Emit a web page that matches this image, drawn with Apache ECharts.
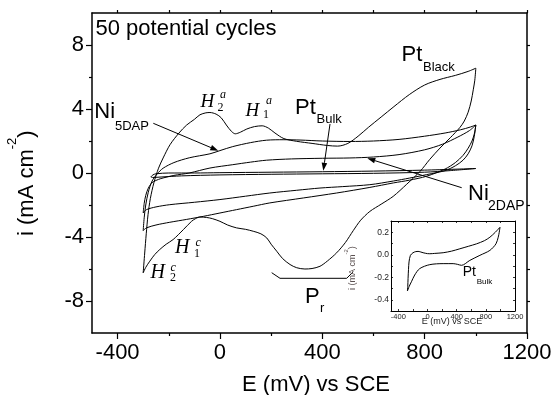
<!DOCTYPE html>
<html>
<head>
<meta charset="utf-8">
<script src="https://cdn.jsdelivr.net/npm/echarts@6/dist/echarts.min.js"></script>
<style>
  html, body { margin: 0; padding: 0; background: #fff; }
  #cv { width: 554px; height: 395px; }
</style>
</head>
<body>
<div id="cv"></div>
<script>
// E in mV vs SCE, i in mA cm^-2

// Pt black, 50 cycles
const ptBlackAnE = [-300, -294, -288, -281, -272, -258, -240, -222, -195, -160, -130, -100, -78, -55, -39, -15, 5, 25, 45, 60, 80, 105, 135, 165, 190, 215, 250, 300, 360, 420, 460, 500, 540, 580, 630, 680, 740, 800, 860, 920, 970, 1000]
const ptBlackAnI = [-6.24, -5.0, -3.8, -2.6, -1.6, -0.6, 0.3, 0.94, 1.77, 2.5, 3.0, 3.35, 3.64, 3.76, 3.78, 3.68, 3.45, 3.0, 2.6, 2.45, 2.55, 2.75, 2.9, 2.95, 2.8, 2.5, 2.15, 1.98, 1.85, 1.72, 1.68, 1.85, 2.3, 2.85, 3.5, 4.15, 4.9, 5.5, 5.85, 6.1, 6.35, 6.55]
const ptBlackCaE = [1000, 996, 990, 982, 970, 955, 938, 900, 860, 820, 782, 730, 677, 630, 586, 550, 521, 490, 456, 420, 391, 360, 332, 300, 274, 245, 222, 200, 183, 160, 130, 100, 65, 30, 0, -30, -52, -78, -95, -111, -143, -183, -210, -235, -255, -274, -290, -300]
const ptBlackCaI = [6.55, 5.8, 5.2, 4.5, 3.8, 3.25, 2.85, 2.2, 1.56, 0.85, 0.1, -0.7, -1.46, -1.95, -2.4, -2.95, -3.6, -4.35, -4.99, -5.5, -5.83, -5.97, -6.0, -5.92, -5.72, -5.35, -4.89, -4.45, -4.06, -3.8, -3.64, -3.52, -3.43, -3.25, -3.02, -2.85, -2.78, -2.75, -2.85, -3.02, -3.54, -4.16, -4.45, -4.78, -5.1, -5.51, -5.9, -6.24]

// Ni 5DAP
const ni5AnE = [-300, -296, -290, -280, -265, -245, -222, -180, -120, -39, 0, 50, 120, 182, 250, 313, 400, 508, 600, 700, 800, 880, 940, 980, 1000]
const ni5AnI = [-3.6, -2.8, -2.0, -1.2, -0.5, -0.05, 0.3, 0.65, 0.95, 1.2, 1.4, 1.65, 1.9, 2.05, 2.08, 2.06, 2.0, 1.97, 2.0, 2.1, 2.3, 2.5, 2.7, 2.88, 3.0]
const ni5CaE = [1000, 995, 985, 970, 950, 920, 880, 808, 740, 678, 586, 456, 326, 195, 130, 65, 0, -65, -130, -196, -250, -287, -300]
const ni5CaI = [3.0, 2.5, 2.0, 1.55, 1.1, 0.65, 0.25, -0.2, -0.45, -0.62, -0.9, -1.25, -1.56, -1.87, -2.08, -2.29, -2.5, -2.71, -2.9, -3.08, -3.25, -3.43, -3.6]

// Ni 2DAP
const ni2AnE = [-300, -296, -290, -280, -265, -240, -222, -180, -120, -39, 50, 120, 182, 280, 400, 508, 600, 700, 800, 870, 930, 975, 1000]
const ni2AnI = [-2.5, -1.9, -1.4, -0.95, -0.6, -0.4, -0.31, -0.15, 0.0, 0.31, 0.52, 0.68, 0.8, 0.88, 0.92, 0.94, 1.0, 1.15, 1.45, 1.8, 2.25, 2.65, 3.0]
const ni2CaE = [1000, 994, 985, 970, 950, 920, 880, 808, 740, 678, 586, 480, 391, 300, 195, 100, 0, -100, -196, -250, -287, -300]
const ni2CaI = [3.0, 2.3, 1.7, 1.2, 0.8, 0.45, 0.15, -0.1, -0.32, -0.5, -0.73, -0.85, -0.94, -1.08, -1.25, -1.45, -1.66, -1.83, -1.98, -2.12, -2.29, -2.5]

// Pt bulk
const ptBulkAnE = [-270, -262, -250, -200, -100, 0, 200, 400, 600, 800, 1000]
const ptBulkAnI = [-0.25, -0.12, -0.05, 0.0, 0.0, 0.02, 0.05, 0.08, 0.12, 0.18, 0.28]
const ptBulkCaE = [1000, 900, 800, 600, 400, 200, 0, -150, -230, -262, -270]
const ptBulkCaI = [0.28, 0.15, 0.05, -0.02, -0.05, -0.08, -0.12, -0.18, -0.25, -0.28, -0.25]

// inset: Pt bulk on its own scale
const insetAnE = [-275, -270, -266, -260, -253, -234, -198, -160, -129, -100, -60, 0, 32, 100, 215, 330, 444, 560, 673, 780, 856, 930, 994]
const insetAnI = [-0.322, -0.28, -0.21, -0.13, -0.064, -0.006, 0.018, 0.028, 0.03, 0.026, 0.018, 0.01, 0.009, 0.012, 0.018, 0.032, 0.053, 0.075, 0.097, 0.125, 0.156, 0.2, 0.244]
const insetCaE = [994, 984, 970, 939, 856, 719, 581, 467, 410, 352, 215, 32, -106, -175, -220, -250, -275]
const insetCaI = [0.244, 0.2, 0.156, 0.097, 0.039, -0.005, -0.05, -0.094, -0.085, -0.079, -0.079, -0.088, -0.123, -0.18, -0.24, -0.28, -0.322]

// ticks
const xMajor = [-400, 0, 400, 800, 1200]
const xMinor = [-200, 200, 600, 1000]
const xAll = [-400, -200, 0, 200, 400, 600, 800, 1000, 1200]
const yMajor = [-8, -4, 0, 4, 8]
const yMinor = [-6, -2, 2, 6]
const yAll = [-8, -6, -4, -2, 0, 2, 4, 6, 8]
const insetYTicks = [-0.4, -0.3, -0.2, -0.1, 0, 0.1, 0.2]
const insetYLabels = [-0.4, -0.2, 0, 0.2]

const SANS = 'Liberation Sans'
const SERIF = 'Liberation Serif'

const chart = echarts.init(document.getElementById('cv'))

const curve = (E, I, ax) => ({
  type: 'line',
  xAxisIndex: ax,
  yAxisIndex: ax,
  data: E.map((e, k) => [e, I[k]]),
  smooth: 0.3,
  showSymbol: false,
  symbol: 'none',
  silent: true,
  lineStyle: { color: '#000', width: 1 },
})

const line = { color: '#000', width: 1.5 }
const tick = { color: '#000', width: 1.2 }
const plain = v => String(v)

// one value axis, main or inset
function axis(grid, pos, min, max, o) {
  return {
    type: 'value', gridIndex: grid, position: pos, min, max,
    axisLine: { show: o.line !== false, onZero: false, lineStyle: o.lineStyle || line },
    axisTick: { show: true, inside: !!o.inside, length: o.len, customValues: o.ticks, lineStyle: o.tickStyle || tick },
    axisLabel: o.labels
      ? Object.assign({ show: true, customValues: o.labels, color: '#000', fontFamily: SANS, formatter: plain }, o.labelStyle)
      : { show: false },
    splitLine: { show: false },
  }
}

const ctx = document.createElement('canvas').getContext('2d')
const tw = (t, size, fam) => { ctx.font = size + 'px "' + fam + '"'; return ctx.measureText(t).width }

// text anchored at left edge, y = middle of capitals
const txt = (t, x, y, size, fam, italic, fill) => ({
  type: 'text', x, y, silent: true,
  style: {
    text: t, fontSize: size, fontFamily: fam || SANS, fontStyle: italic ? 'italic' : 'normal',
    fill: fill || '#000', align: 'left', verticalAlign: 'middle', textAlign: 'left', textVerticalAlign: 'middle',
  },
})

function arrow(x1, y1, x2, y2) {
  const a = Math.atan2(y2 - y1, x2 - x1), L = 8, W = 2.8
  const bx = x2 - L * Math.cos(a), by = y2 - L * Math.sin(a)
  return [
    { type: 'line', silent: true, shape: { x1, y1, x2: bx, y2: by }, style: { stroke: '#000', lineWidth: 1 } },
    { type: 'polygon', silent: true, shape: { points: [[x2, y2], [bx - W * Math.sin(a), by + W * Math.cos(a)], [bx + W * Math.sin(a), by - W * Math.cos(a)]] }, style: { fill: '#000' } },
  ]
}

// rotated axis title with superscript
function yName(cx, yBottom, size, supSize, supShift, fill) {
  const w1 = tw('i (mA cm', size, SANS), w2 = tw('-2', supSize, SANS)
  return {
    type: 'group', x: cx, y: yBottom, rotation: Math.PI / 2, silent: true,
    children: [
      txt('i (mA cm', 0, 0, size, SANS, false, fill),
      txt('-2', w1, supShift, supSize, SANS, false, fill),
      txt(')', w1 + w2, 0, size, SANS, false, fill),
    ],
  }
}

const xNameW = tw('E (mV) vs SCE', 22, SANS)
const insetNameW = tw('E (mV) vs SCE', 9, SANS)

const graphic = [
  txt('50 potential cycles', 95.5, 28.7, 22),
  txt('Pt', 401.5, 55, 22), txt('Black', 423, 67.5, 13),
  txt('Ni', 94.3, 111.5, 22), txt('5DAP', 115, 126, 13),
  txt('Pt', 295, 107.5, 22), txt('Bulk', 316.5, 119.5, 13),
  txt('Ni', 468, 193.5, 22), txt('2DAP', 488, 206, 14),
  txt('P', 305, 296.5, 22), txt('r', 320, 308, 13),
  txt('H', 200.5, 102, 19, SERIF, true), txt('2', 217.5, 107.5, 12, SERIF), txt('a', 220, 94.5, 12, SERIF, true),
  txt('H', 245.5, 111, 19, SERIF, true), txt('1', 263, 114.5, 12, SERIF), txt('a', 266, 100.5, 12, SERIF, true),
  txt('H', 175, 248, 20, SERIF, true), txt('1', 194, 254, 12, SERIF), txt('c', 195.5, 243, 12, SERIF, true),
  txt('H', 150.5, 272.5, 20, SERIF, true), txt('2', 170, 278, 12, SERIF), txt('c', 170.5, 268, 12, SERIF, true),
  ...arrow(153.3, 123.3, 218.3, 150.7),
  ...arrow(330, 124, 323.3, 170.7),
  ...arrow(461.7, 187.7, 367.3, 158.3),
  { type: 'polyline', silent: true, shape: { points: [[271.7, 272.7], [280, 278.3], [346.7, 278.3], [353.3, 271.7]] }, style: { stroke: '#000', lineWidth: 1, fill: null } },
  txt('E (mV) vs SCE', 316 - xNameW / 2, 384.5, 22),
  yName(27, 236, 22, 13, -14.5),
  // inset texts
  txt('Pt', 462.7, 272, 14), txt('Bulk', 476.7, 281.5, 8),
  txt('E (mV) vs SCE', 452 - insetNameW / 2, 321.5, 9, SANS, false, '#222'),
  yName(352.5, 290, 9, 6, -6, '#5a5050'),
]

const insetLine = { color: '#000', width: 1 }
const insetTick = { color: '#000', width: 0.8 }

const option = {
  animation: false,
  backgroundColor: '#fff',
  grid: [
    { left: 92, right: 27, top: 13, bottom: 62, outerBoundsMode: 'none' },
    { left: 391, width: 124, top: 221, height: 90, show: true, backgroundColor: '#fff', borderWidth: 0, outerBoundsMode: 'none' },
  ],
  xAxis: [
    axis(0, 'bottom', -500, 1200, { len: 6, ticks: xMajor, labels: xMajor, labelStyle: { fontSize: 22, margin: 9 } }),
    axis(0, 'bottom', -500, 1200, { line: false, len: 3, ticks: xMinor }),
    axis(0, 'top', -500, 1200, { len: 3, ticks: xAll }),
    axis(1, 'bottom', -500, 1200, { inside: true, len: 2, ticks: xAll, lineStyle: insetLine, tickStyle: insetTick, labels: xMajor, labelStyle: { fontSize: 7.5, margin: 2, color: '#222' } }),
    axis(1, 'top', -500, 1200, { inside: true, len: 2, ticks: xAll, lineStyle: insetLine, tickStyle: insetTick }),
  ],
  yAxis: [
    axis(0, 'left', -10, 10, { len: 6, ticks: yMajor, labels: yMajor, labelStyle: { fontSize: 22, margin: 8 } }),
    axis(0, 'left', -10, 10, { line: false, len: 3, ticks: yMinor }),
    axis(0, 'right', -10, 10, { len: 3, ticks: yAll }),
    axis(1, 'left', -0.5, 0.3, { inside: true, len: 2, ticks: insetYTicks, lineStyle: insetLine, tickStyle: insetTick, labels: insetYLabels, labelStyle: { fontSize: 8.5, margin: 2, color: '#222', formatter: v => (Math.abs(v) < 1e-9 ? 0 : v).toFixed(1) } }),
    axis(1, 'right', -0.5, 0.3, { inside: true, len: 2, ticks: insetYTicks, lineStyle: insetLine, tickStyle: insetTick }),
  ],
  series: [
    curve(ptBlackAnE, ptBlackAnI, 0), curve(ptBlackCaE, ptBlackCaI, 0),
    curve(ni5AnE, ni5AnI, 0), curve(ni5CaE, ni5CaI, 0),
    curve(ni2AnE, ni2AnI, 0), curve(ni2CaE, ni2CaI, 0),
    curve(ptBulkAnE, ptBulkAnI, 0), curve(ptBulkCaE, ptBulkCaI, 0),
    curve(insetAnE, insetAnI, 3), curve(insetCaE, insetCaI, 3),
  ],
  graphic,
}

chart.setOption(option)
</script>
</body>
</html>
